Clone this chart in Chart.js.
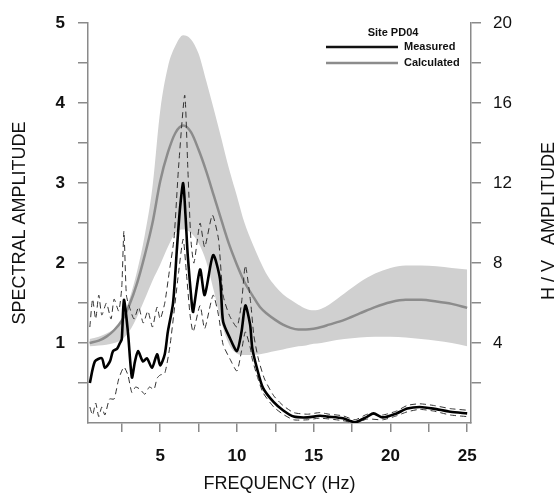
<!DOCTYPE html>
<html>
<head>
<meta charset="utf-8">
<script src="https://cdn.jsdelivr.net/npm/chart.js@4.4.0/dist/chart.umd.min.js"></script>
<style>
  body { margin: 0; background: #fff; }
</style>
</head>
<body>
<canvas id="hvchart" width="559" height="498"></canvas>
<script>
// calculated curve and its +/- band, sampled on the same frequencies
const bandFreq = [0.4, 1, 1.5, 2, 2.5, 3, 3.5, 4, 4.5, 5, 5.5, 6, 6.5, 7, 7.5, 8, 8.5, 9, 9.5, 10,
  10.5, 11, 11.5, 12, 12.5, 13, 13.5, 14, 14.5, 15, 15.5, 16, 17, 18, 19, 20, 21, 22, 23, 24, 25];
const calcAmp = [1.0, 1.03, 1.08, 1.16, 1.28, 1.48, 1.75, 2.1, 2.5, 3.02, 3.38, 3.63, 3.72, 3.64, 3.42, 3.15, 2.84, 2.53, 2.23, 1.98,
  1.76, 1.6, 1.45, 1.36, 1.29, 1.23, 1.19, 1.17, 1.17, 1.18, 1.2, 1.23, 1.29, 1.37, 1.45, 1.51, 1.54, 1.54, 1.52, 1.49, 1.44];
const bandUpper = [1.05, 1.08, 1.12, 1.18, 1.3, 1.55, 1.9, 2.35, 2.95, 3.9, 4.45, 4.72, 4.85, 4.8, 4.62, 4.28, 3.92, 3.55, 3.17, 2.84,
  2.5, 2.25, 2.03, 1.84, 1.71, 1.61, 1.54, 1.48, 1.43, 1.41, 1.43, 1.48, 1.62, 1.76, 1.87, 1.94, 1.97, 1.97, 1.96, 1.94, 1.92];
const bandLower = [0.96, 0.97, 0.98, 1.0, 1.04, 1.15, 1.33, 1.55, 1.78, 1.98, 2.2, 2.38, 2.42, 2.38, 2.25, 2.02, 1.65, 1.25, 0.98, 0.87,
  0.85, 0.85, 0.86, 0.88, 0.9, 0.92, 0.94, 0.96, 0.97, 0.99, 1.0, 1.02, 1.05, 1.07, 1.08, 1.08, 1.07, 1.05, 1.03, 1.0, 0.96];

// measured curve
const measFreq = [0.42, 0.75, 1.2, 1.4, 1.73, 1.93, 2.2, 2.38, 2.5, 2.64, 2.9, 3.16, 3.36, 3.56, 3.88, 4.14, 4.47, 4.8, 5.0, 5.3,
  5.5, 5.84, 6.1, 6.3, 6.5, 6.65, 6.8, 7.07, 7.15, 7.6, 7.9, 8.45, 8.9, 9.1, 9.55, 10.0, 10.3, 10.55, 10.86, 11.0,
  11.3, 11.7, 12.4, 13.0, 13.7, 14.6, 15.4, 15.9, 16.9, 17.7, 18.5, 18.9, 19.5, 20.4, 21.1, 21.9, 22.8, 23.9, 25];
const measAmp = [0.5, 0.77, 0.81, 0.69, 0.77, 0.9, 0.93, 1.0, 1.05, 1.54, 1.14, 0.57, 0.77, 0.9, 0.77, 0.81, 0.69, 0.86, 0.72, 0.86,
  1.14, 1.5, 2.2, 2.7, 3.0, 2.6, 2.09, 1.47, 1.39, 1.92, 1.6, 2.1, 1.8, 1.27, 1.06, 0.9, 1.14, 1.47, 1.23, 0.94,
  0.69, 0.44, 0.26, 0.16, 0.08, 0.07, 0.09, 0.08, 0.06, 0.01, 0.08, 0.12, 0.07, 0.12, 0.18, 0.2, 0.18, 0.14, 0.12];

// measured +/- one std (dashed)
const upFreq = [0.42, 0.6, 0.8, 1.0, 1.2, 1.5, 1.8, 2.0, 2.3, 2.5, 2.64, 2.8, 3.0, 3.3, 3.6, 3.9, 4.2, 4.5, 4.8, 5.0,
  5.3, 5.6, 5.9, 6.2, 6.6, 6.8, 7.0, 7.2, 7.6, 7.9, 8.4, 8.8, 9.1, 9.5, 10.0, 10.3, 10.55, 10.9, 11.1, 11.4,
  11.8, 12.4, 13.0, 13.7, 14.6, 15.4, 16.0, 16.9, 17.7, 18.5, 19.5, 20.4, 21.1, 21.9, 22.8, 23.9, 25];
const upAmp = [1.2, 1.55, 1.3, 1.6, 1.35, 1.5, 1.3, 1.55, 1.4, 1.7, 2.4, 1.6, 1.45, 1.3, 1.45, 1.25, 1.4, 1.2, 1.45, 1.3,
  1.5, 1.9, 2.3, 3.2, 4.1, 3.2, 2.3, 2.0, 2.5, 2.2, 2.6, 2.3, 1.6, 1.35, 1.2, 1.5, 1.97, 1.5, 1.1, 0.8,
  0.55, 0.34, 0.22, 0.13, 0.11, 0.13, 0.11, 0.09, 0.04, 0.11, 0.1, 0.15, 0.22, 0.24, 0.22, 0.18, 0.16];
const lowFreq = [0.42, 0.6, 0.8, 1.0, 1.2, 1.4, 1.7, 2.0, 2.3, 2.64, 2.9, 3.16, 3.4, 3.7, 4.0, 4.3, 4.6, 4.8, 5.0, 5.3,
  5.65, 6.2, 6.5, 6.7, 6.95, 7.15, 7.6, 7.9, 8.45, 8.8, 9.1, 9.55, 10.0, 10.3, 10.55, 10.86, 11.0, 11.3, 11.7, 12.4,
  13.0, 13.7, 14.6, 15.4, 16.9, 17.7, 18.5, 19.5, 20.4, 21.1, 21.9, 22.8, 23.9, 25];
const lowAmp = [0.2, 0.1, 0.25, 0.08, 0.2, 0.1, 0.3, 0.3, 0.55, 0.7, 0.6, 0.38, 0.45, 0.42, 0.36, 0.45, 0.42, 0.56, 0.6, 0.62,
  0.98, 1.88, 2.3, 1.9, 1.35, 1.14, 1.47, 1.18, 1.6, 1.35, 0.98, 0.8, 0.65, 0.9, 1.14, 0.95, 0.8, 0.6, 0.38, 0.2,
  0.11, 0.04, 0.04, 0.06, 0.03, 0.0, 0.05, 0.04, 0.09, 0.14, 0.17, 0.15, 0.1, 0.08];

const pts = (xs, ys) => xs.map((x, i) => ({x: x, y: ys[i]}));

const FONT = "'Liberation Sans', Arial, sans-serif";
const AXIS_GRAY = '#8a8a8a';

// right title (reads bottom to top) and the little legend box
const extras = {
  id: 'extras',
  afterDraw(chart) {
    const c = chart.ctx;
    c.save();
    c.fillStyle = '#111';
    c.font = '18px ' + FONT;
    c.textAlign = 'center';
    c.textBaseline = 'middle';
    c.translate(549, 221);
    c.rotate(-Math.PI / 2);
    c.fillText('H / V   AMPLITUDE', 0, 0);
    c.restore();

    c.save();
    c.fillStyle = '#111';
    c.font = 'bold 11px ' + FONT;
    c.textBaseline = 'middle';
    c.textAlign = 'center';
    c.fillText('Site PD04', 393, 33);
    c.textAlign = 'left';
    c.fillText('Measured', 404, 47);
    c.fillText('Calculated', 404, 63);
    c.lineWidth = 2.5;
    c.strokeStyle = '#111';
    c.beginPath(); c.moveTo(326, 47); c.lineTo(398, 47); c.stroke();
    c.strokeStyle = '#8c8c8c';
    c.beginPath(); c.moveTo(326, 63); c.lineTo(398, 63); c.stroke();
    c.restore();
  }
};

new Chart(document.getElementById('hvchart'), {
  type: 'line',
  data: {
    datasets: [
      {
        label: 'upper',
        data: pts(bandFreq, bandUpper),
        borderWidth: 0,
        pointRadius: 0,
        backgroundColor: '#d0d0d0',
        fill: '+1',
        cubicInterpolationMode: 'monotone',
        order: 4
      },
      {
        label: 'lower',
        data: pts(bandFreq, bandLower),
        borderWidth: 0,
        pointRadius: 0,
        fill: false,
        cubicInterpolationMode: 'monotone',
        order: 4
      },
      {
        label: 'Calculated',
        data: pts(bandFreq, calcAmp),
        borderColor: '#8c8c8c',
        borderWidth: 2.5,
        pointRadius: 0,
        fill: false,
        cubicInterpolationMode: 'monotone',
        order: 3
      },
      {
        label: 'Measured + std',
        data: pts(upFreq, upAmp),
        borderColor: '#333',
        borderWidth: 1,
        borderDash: [6, 4],
        pointRadius: 0,
        fill: false,
        tension: 0.2,
        order: 2
      },
      {
        label: 'Measured - std',
        data: pts(lowFreq, lowAmp),
        borderColor: '#333',
        borderWidth: 1,
        borderDash: [6, 4],
        pointRadius: 0,
        fill: false,
        tension: 0.2,
        order: 2
      },
      {
        label: 'Measured',
        data: pts(measFreq, measAmp),
        borderColor: '#000',
        borderWidth: 2.6,
        pointRadius: 0,
        fill: false,
        tension: 0.25,
        order: 1
      }
    ]
  },
  options: {
    responsive: false,
    animation: false,
    layout: { padding: { top: 16, left: 0, right: 0, bottom: 0 } },
    plugins: {
      legend: { display: false },
      tooltip: { enabled: false }
    },
    scales: {
      x: {
        type: 'linear',
        min: 0.3,
        max: 25.25,
        afterFit: (s) => { s.height = 75; },
        border: { display: true, color: AXIS_GRAY, width: 1.5 },
        grid: { drawOnChartArea: false, drawTicks: true, tickLength: 9, color: AXIS_GRAY, lineWidth: 1.5 },
        ticks: {
          stepSize: 2.5,
          includeBounds: false,
          autoSkip: false,
          maxTicksLimit: 50,
          maxRotation: 0,
          padding: 14,
          color: '#111',
          font: { family: FONT, size: 17, weight: 'bold' },
          callback: (v) => (v % 5 === 0 ? String(v) : '')
        },
        title: {
          display: true,
          text: 'FREQUENCY (Hz)',
          color: '#111',
          font: { family: FONT, size: 18 },
          padding: { top: 0, bottom: 3 }
        }
      },
      y: {
        position: 'left',
        min: 0,
        max: 5,
        afterFit: (s) => { s.width = 88; },
        border: { display: true, color: AXIS_GRAY, width: 1.5 },
        grid: { drawOnChartArea: false, drawTicks: true, tickLength: 10, color: AXIS_GRAY, lineWidth: 1.5 },
        ticks: {
          stepSize: 0.5,
          autoSkip: false,
          maxTicksLimit: 50,
          padding: 13,
          color: '#111',
          font: { family: FONT, size: 17, weight: 'bold' },
          callback: (v) => (v === 0 ? null : (Number.isInteger(v) ? String(v) : ''))
        },
        title: {
          display: true,
          text: 'SPECTRAL AMPLITUDE',
          color: '#111',
          font: { family: FONT, size: 18 },
          padding: { top: 9, bottom: 0 }
        }
      },
      y2: {
        position: 'right',
        min: 0,
        max: 20,
        afterFit: (s) => { s.width = 88; },
        border: { display: true, color: AXIS_GRAY, width: 1.5 },
        grid: { drawOnChartArea: false, drawTicks: true, tickLength: 10, color: AXIS_GRAY, lineWidth: 1.5 },
        ticks: {
          stepSize: 2,
          autoSkip: false,
          maxTicksLimit: 50,
          padding: 12,
          color: '#111',
          font: { family: FONT, size: 17 },
          callback: (v) => (v === 0 ? null : (v % 4 === 0 ? String(v) : ''))
        }
      }
    }
  },
  plugins: [extras]
});
</script>
</body>
</html>
